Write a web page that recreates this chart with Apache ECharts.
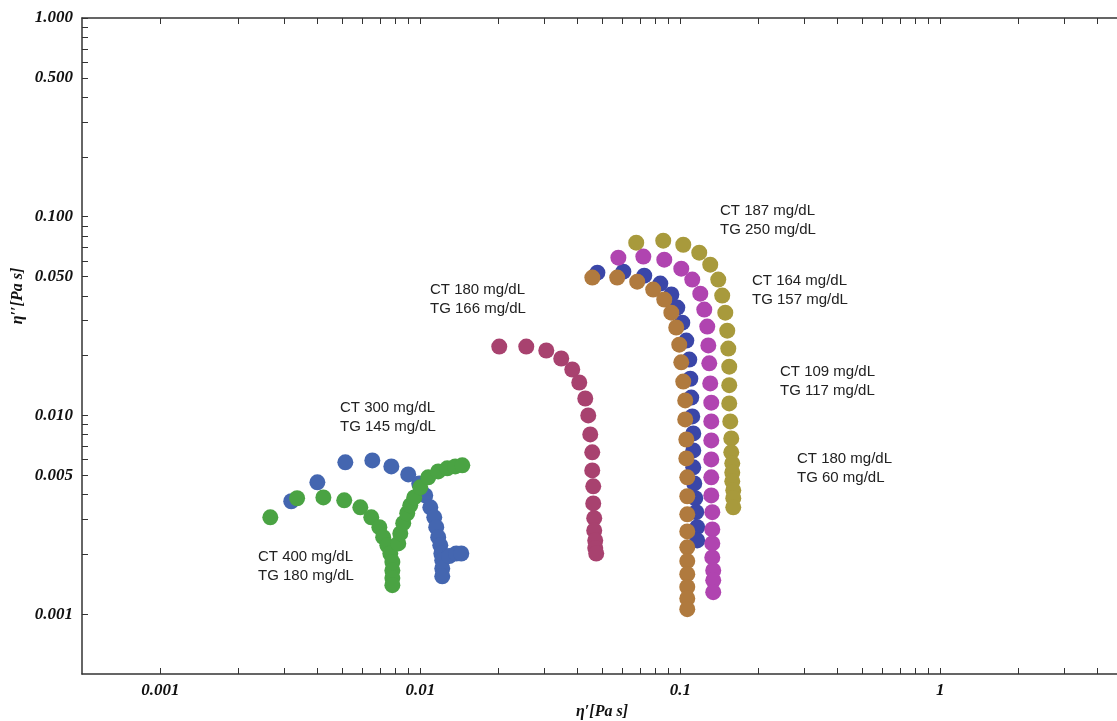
<!DOCTYPE html>
<html>
<head>
<meta charset="utf-8">
<script src="https://cdn.jsdelivr.net/npm/echarts@6/dist/echarts.min.js"></script>
<style>
html,body{margin:0;padding:0;background:#fff;}
#chart{width:1117px;height:721px;}
</style>
</head>
<body>
<div id="chart"></div>
<script>
// ---- data: [eta' , eta''] in Pa s ----
const blueLeft = [[0.00319,0.00370],[0.00402,0.00461],[0.00515,0.00581],[0.00654,0.00594],[0.00774,0.00554],[0.00899,0.00505],[0.00991,0.00455],[0.01045,0.00396],[0.01093,0.00345],[0.01132,0.00307],[0.01152,0.00274],[0.01172,0.00244],[0.01194,0.00222],[0.01205,0.00202],[0.01215,0.00187],[0.01215,0.00170],[0.01215,0.00155],[0.01292,0.00196],[0.01375,0.00202],[0.01438,0.00202]];
const green = [[0.00265,0.00307],[0.00336,0.00383],[0.00424,0.00387],[0.00510,0.00374],[0.00588,0.00345],[0.00648,0.00307],[0.00696,0.00274],[0.00720,0.00244],[0.00747,0.00222],[0.00767,0.00202],[0.00781,0.00183],[0.00781,0.00166],[0.00781,0.00152],[0.00781,0.00140],[0.00823,0.00227],[0.00838,0.00255],[0.00860,0.00287],[0.00891,0.00322],[0.00915,0.00353],[0.00948,0.00387],[0.01000,0.00435],[0.01073,0.00488],[0.01172,0.00523],[0.01270,0.00542],[0.01363,0.00554],[0.01451,0.00561]];
const maroon = [[0.02013,0.02222],[0.02557,0.02222],[0.03053,0.02122],[0.03485,0.01934],[0.03842,0.01703],[0.04088,0.01465],[0.04311,0.01217],[0.04427,0.01000],[0.04506,0.00803],[0.04586,0.00652],[0.04586,0.00529],[0.04627,0.00440],[0.04627,0.00361],[0.04667,0.00304],[0.04667,0.00264],[0.04709,0.00235],[0.04709,0.00215],[0.04751,0.00202]];
const darkBlue = [[0.0480,0.0523],[0.0604,0.0529],[0.0727,0.0505],[0.0838,0.0461],[0.0924,0.0406],[0.0974,0.0349],[0.1018,0.0293],[0.1055,0.0238],[0.1083,0.0191],[0.1093,0.0153],[0.1102,0.0123],[0.1112,0.00989],[0.1122,0.00812],[0.1122,0.00667],[0.1122,0.00548],[0.1132,0.00455],[0.1142,0.00383],[0.1152,0.00326],[0.1162,0.00274],[0.1162,0.00235]];
const brown = [[0.0459,0.0494],[0.0572,0.0494],[0.0683,0.0471],[0.0787,0.0430],[0.0868,0.0383],[0.0924,0.0329],[0.0965,0.0277],[0.0991,0.0227],[0.1009,0.0185],[0.1027,0.0148],[0.1045,0.0119],[0.1045,0.00955],[0.1055,0.00757],[0.1055,0.00608],[0.1064,0.00488],[0.1064,0.00392],[0.1064,0.00318],[0.1064,0.00261],[0.1064,0.00217],[0.1064,0.00185],[0.1064,0.00159],[0.1064,0.00137],[0.1064,0.00120],[0.1064,0.00106]];
const magenta = [[0.0578,0.0622],[0.0721,0.0630],[0.0868,0.0608],[0.1009,0.0548],[0.1112,0.0483],[0.1194,0.0410],[0.1237,0.0341],[0.1270,0.0280],[0.1282,0.0225],[0.1293,0.0183],[0.1304,0.0145],[0.1316,0.0116],[0.1316,0.00933],[0.1316,0.00749],[0.1316,0.00601],[0.1316,0.00488],[0.1316,0.00396],[0.1328,0.00326],[0.1328,0.00267],[0.1328,0.00227],[0.1328,0.00193],[0.1339,0.00166],[0.1339,0.00148],[0.1339,0.00129]];
const olive = [[0.0677,0.0740],[0.0860,0.0758],[0.1027,0.0723],[0.1183,0.0659],[0.1304,0.0574],[0.1400,0.0483],[0.1450,0.0401],[0.1490,0.0329],[0.1516,0.0267],[0.1530,0.0217],[0.1543,0.0176],[0.1543,0.0142],[0.1543,0.0115],[0.1557,0.00933],[0.1571,0.00766],[0.1571,0.00652],[0.1585,0.00574],[0.1585,0.00517],[0.1585,0.00466],[0.1599,0.00420],[0.1599,0.00383],[0.1599,0.00345]];

// ---- annotations ----
const annotations = [
  {text: 'CT 187 mg/dL\nTG 250 mg/dL', x: 720, y: 201},
  {text: 'CT 164 mg/dL\nTG 157 mg/dL', x: 752, y: 271},
  {text: 'CT 180 mg/dL\nTG 166 mg/dL', x: 430, y: 280},
  {text: 'CT 109 mg/dL\nTG 117 mg/dL', x: 780, y: 362},
  {text: 'CT 300 mg/dL\nTG 145 mg/dL', x: 340, y: 398},
  {text: 'CT 180 mg/dL\nTG 60 mg/dL', x: 797, y: 449},
  {text: 'CT 400 mg/dL\nTG 180 mg/dL', x: 258, y: 547}
];

// ---- ticks ----
const xTickValues = [0.001,0.002,0.003,0.004,0.005,0.006,0.007,0.008,0.009,0.01,0.02,0.03,0.04,0.05,0.06,0.07,0.08,0.09,0.1,0.2,0.3,0.4,0.5,0.6,0.7,0.8,0.9,1,2,3,4,5];
const xLabelValues = [0.001,0.01,0.1,1];
const xLabelTexts = ['0.001','0.01','0.1','1'];
const yTickValues = [0.001,0.002,0.003,0.004,0.005,0.006,0.007,0.008,0.009,0.01,0.02,0.03,0.04,0.05,0.06,0.07,0.08,0.09,0.1,0.2,0.3,0.4,0.5,0.6,0.7,0.8,0.9,1];
const yLabelValues = [0.001,0.005,0.01,0.05,0.1,0.5,1];
const yLabelTexts = ['0.001','0.005','0.010','0.050','0.100','0.500','1.000'];

function lookup(vals, texts){
  return function(v){
    for (let i=0;i<vals.length;i++){ if (Math.abs(vals[i]-v) < vals[i]*1e-6) return texts[i]; }
    return '';
  };
}

const axisFont = {fontFamily:'Liberation Serif', fontWeight:'bold', fontStyle:'italic', fontSize:17, color:'#111'};
const lineStyle = {color:'#333', width:1.5};

const chart = echarts.init(document.getElementById('chart'), null, {renderer:'canvas'});
const mk = (name, data, color) => ({
  name, type:'scatter', data, symbol:'circle', symbolSize:16,
  itemStyle:{color, opacity:1}, xAxisIndex:0, yAxisIndex:0, z:2
});
chart.setOption({
  backgroundColor:'#fff',
  animation:false,
  grid:{left:82, right:-5, top:18, bottom:47, outerBoundsMode:'none', containLabel:false},
  xAxis:[{
    type:'log', logBase:10, min:0.0005, max:5, position:'bottom',
    axisLine:{show:true, onZero:false, lineStyle},
    axisTick:{show:true, inside:true, length:6, customValues:xTickValues, lineStyle:{color:'#333', width:1}},
    minorTick:{show:false}, splitLine:{show:false},
    axisLabel:{customValues:xLabelValues, formatter:lookup(xLabelValues,xLabelTexts), margin:8, ...axisFont},
    name:'η′[Pa s]', nameLocation:'middle', nameGap:30,
    nameTextStyle:{...axisFont, fontSize:16}
  },{
    type:'log', logBase:10, min:0.0005, max:5, position:'top',
    axisLine:{show:true, onZero:false, lineStyle},
    axisTick:{show:true, inside:true, length:6, customValues:xTickValues, lineStyle:{color:'#333', width:1}},
    axisLabel:{show:false}, splitLine:{show:false}
  }],
  yAxis:[{
    type:'log', logBase:10, min:0.0005, max:1, position:'left',
    axisLine:{show:true, onZero:false, lineStyle},
    axisTick:{show:true, inside:true, length:6, customValues:yTickValues, lineStyle:{color:'#333', width:1}},
    minorTick:{show:false}, splitLine:{show:false},
    axisLabel:{customValues:yLabelValues, formatter:lookup(yLabelValues,yLabelTexts), margin:9, ...axisFont}
  }],
  series:[
    mk('CT 300 mg/dL TG 145 mg/dL', blueLeft, '#4466b0'),
    mk('CT 400 mg/dL TG 180 mg/dL', green, '#4aa343'),
    mk('CT 180 mg/dL TG 166 mg/dL', maroon, '#a8426f'),
    mk('series dark blue', darkBlue, '#3a46a8'),
    mk('series brown', brown, '#b07a3e'),
    mk('series magenta', magenta, '#b044b0'),
    mk('series olive', olive, '#a89a3c')
  ],
  graphic: [
    {type:'text', x:18, y:296, rotation:Math.PI/2, silent:true,
     style:{text:'η′′[Pa s]', fill:'#111', font:'italic bold 16px "Liberation Serif"', align:'center', verticalAlign:'middle'}},
    ...annotations.map(a => ({type:'text', x:a.x, y:a.y, silent:true,
      style:{text:a.text, fill:'#222', font:'15px "Liberation Sans"', lineHeight:19, align:'left', verticalAlign:'top'}}))
  ]
});
</script>
</body>
</html>
